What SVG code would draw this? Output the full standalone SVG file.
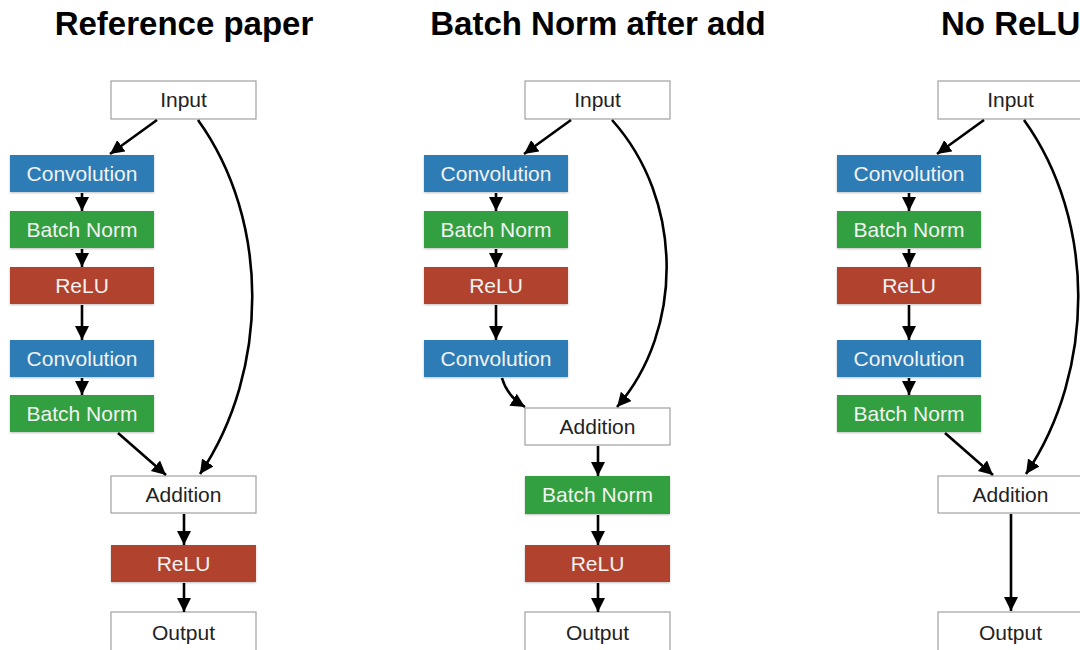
<svg xmlns="http://www.w3.org/2000/svg" width="1080" height="650" viewBox="0 0 1080 650">
<style>
.title{font-family:"Liberation Sans",Arial,sans-serif;font-weight:bold;font-size:33px;fill:#000}
.lbl{font-family:"Liberation Sans",Arial,sans-serif;font-size:21px;text-anchor:middle}
.w rect{fill:#fff;stroke:#a0a0a0;stroke-width:1.2}
.w text{fill:#222}
.b rect{fill:#2f7cb6}
.g rect{fill:#30a040}
.r rect{fill:#b1432f}
.b text,.g text,.r text{fill:#f2f2f2}
.b rect,.g rect,.r rect{filter:url(#sh)}
.c path{fill:none;stroke:#000;stroke-width:2.6;marker-end:url(#ah)}
</style>
<defs>
<marker id="ah" markerUnits="userSpaceOnUse" markerWidth="15" markerHeight="15" refX="14" refY="7" orient="auto">
<path d="M0,0 L14,7 L0,14 z" fill="#000"/>
</marker>
<filter id="sh" x="-5%" y="-10%" width="110%" height="130%">
<feDropShadow dx="0" dy="1" stdDeviation="0.8" flood-color="#000" flood-opacity="0.25"/>
</filter>
</defs>
<rect width="1080" height="650" fill="#fff"/>
<text class="title" x="184" y="35" text-anchor="middle">Reference paper</text>
<text class="title" x="598" y="35" text-anchor="middle">Batch Norm after add</text>
<text class="title" x="941" y="35">No ReLU</text>

<!-- Panel 1 -->
<g id="p1-input" class="w"><rect x="111" y="81" width="145" height="38"/><text class="lbl" x="183.5" y="107">Input</text></g>
<g id="p1-conv1" class="b"><rect x="10" y="155" width="144" height="37"/><text class="lbl" x="82" y="181">Convolution</text></g>
<g id="p1-bn1" class="g"><rect x="10" y="211" width="144" height="37"/><text class="lbl" x="82" y="237">Batch Norm</text></g>
<g id="p1-relu1" class="r"><rect x="10" y="267" width="144" height="37"/><text class="lbl" x="82" y="293">ReLU</text></g>
<g id="p1-conv2" class="b"><rect x="10" y="340" width="144" height="37"/><text class="lbl" x="82" y="366">Convolution</text></g>
<g id="p1-bn2" class="g"><rect x="10" y="395" width="144" height="37"/><text class="lbl" x="82" y="421">Batch Norm</text></g>
<g id="p1-add" class="w"><rect x="111" y="476" width="145" height="37"/><text class="lbl" x="183.5" y="502">Addition</text></g>
<g id="p1-relu2" class="r"><rect x="111" y="545" width="145" height="37"/><text class="lbl" x="183.5" y="571">ReLU</text></g>
<g id="p1-output" class="w"><rect x="111" y="612" width="145" height="42"/><text class="lbl" x="183.5" y="640">Output</text></g>

<!-- Panel 2 -->
<g id="p2-input" class="w"><rect x="525" y="81" width="145" height="38"/><text class="lbl" x="597.5" y="107">Input</text></g>
<g id="p2-conv1" class="b"><rect x="424" y="155" width="144" height="37"/><text class="lbl" x="496" y="181">Convolution</text></g>
<g id="p2-bn1" class="g"><rect x="424" y="211" width="144" height="37"/><text class="lbl" x="496" y="237">Batch Norm</text></g>
<g id="p2-relu1" class="r"><rect x="424" y="267" width="144" height="37"/><text class="lbl" x="496" y="293">ReLU</text></g>
<g id="p2-conv2" class="b"><rect x="424" y="340" width="144" height="37"/><text class="lbl" x="496" y="366">Convolution</text></g>
<g id="p2-add" class="w"><rect x="525" y="408" width="145" height="37"/><text class="lbl" x="597.5" y="434">Addition</text></g>
<g id="p2-bn2" class="g"><rect x="525" y="476" width="145" height="38"/><text class="lbl" x="597.5" y="502">Batch Norm</text></g>
<g id="p2-relu2" class="r"><rect x="525" y="545" width="145" height="37"/><text class="lbl" x="597.5" y="571">ReLU</text></g>
<g id="p2-output" class="w"><rect x="525" y="612" width="145" height="42"/><text class="lbl" x="597.5" y="640">Output</text></g>

<!-- Panel 3 -->
<g id="p3-input" class="w"><rect x="938" y="81" width="145" height="38"/><text class="lbl" x="1010.5" y="107">Input</text></g>
<g id="p3-conv1" class="b"><rect x="837" y="155" width="144" height="37"/><text class="lbl" x="909" y="181">Convolution</text></g>
<g id="p3-bn1" class="g"><rect x="837" y="211" width="144" height="37"/><text class="lbl" x="909" y="237">Batch Norm</text></g>
<g id="p3-relu1" class="r"><rect x="837" y="267" width="144" height="37"/><text class="lbl" x="909" y="293">ReLU</text></g>
<g id="p3-conv2" class="b"><rect x="837" y="340" width="144" height="37"/><text class="lbl" x="909" y="366">Convolution</text></g>
<g id="p3-bn2" class="g"><rect x="837" y="395" width="144" height="37"/><text class="lbl" x="909" y="421">Batch Norm</text></g>
<g id="p3-add" class="w"><rect x="938" y="476" width="145" height="37"/><text class="lbl" x="1010.5" y="502">Addition</text></g>
<g id="p3-output" class="w"><rect x="938" y="612" width="145" height="42"/><text class="lbl" x="1010.5" y="640">Output</text></g>

<g id="connectors" class="c">
<!-- panel 1 -->
<path d="M157,120 L110,154"/>
<path d="M82,193 L82,211"/>
<path d="M82,249 L82,267"/>
<path d="M82,305 L82,340"/>
<path d="M82,378 L82,395"/>
<path d="M118,433 L166,475"/>
<path d="M198,120 C270,220 270,370 200,474"/>
<path d="M184,514 L184,545"/>
<path d="M184,583 L184,612"/>
<!-- panel 2 -->
<path d="M571,120 L524,154"/>
<path d="M496,193 L496,211"/>
<path d="M496,249 L496,267"/>
<path d="M496,305 L496,340"/>
<path d="M502,378 Q507,396 525,407"/>
<path d="M612,120 C684,200 684,330 617,407"/>
<path d="M598,446 L598,476"/>
<path d="M598,515 L598,545"/>
<path d="M598,583 L598,612"/>
<!-- panel 3 -->
<path d="M984,120 L937,154"/>
<path d="M909,193 L909,211"/>
<path d="M909,249 L909,267"/>
<path d="M909,305 L909,340"/>
<path d="M909,378 L909,395"/>
<path d="M945,433 L993,475"/>
<path d="M1024,120 C1096,220 1096,370 1026,474"/>
<path d="M1011,514 L1011,611"/>
</g>
</svg>
